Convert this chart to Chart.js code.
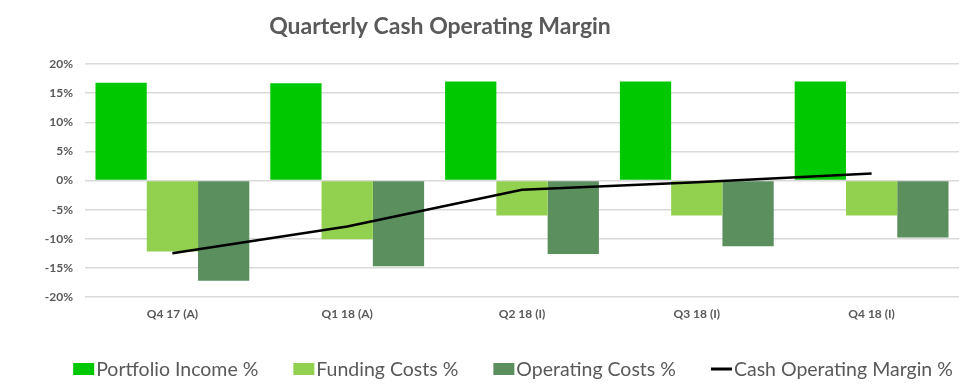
<!DOCTYPE html>
<html>
<head>
<meta charset="utf-8">
<script src="https://cdn.jsdelivr.net/npm/chart.js@4/dist/chart.umd.min.js"></script>
<style>
  html, body { margin: 0; padding: 0; background: #ffffff; }
  #wrap { width: 975px; height: 390px; position: relative; }
</style>
</head>
<body>
<div id="wrap"><canvas id="c" width="975" height="390"></canvas></div>
<script>
const TITLE = 'Quarterly Cash Operating Margin';
const categories = ['Q4 17 (A)', 'Q1 18 (A)', 'Q2 18 (I)', 'Q3 18 (I)', 'Q4 18 (I)'];
const portfolioIncome = [16.8, 16.7, 17.0, 17.0, 17.0];
const fundingCosts = [-12.2, -10.1, -6.0, -6.0, -6.0];
const operatingCosts = [-17.2, -14.7, -12.6, -11.3, -9.8];
const cashOperatingMargin = [-12.5, -7.9, -1.6, -0.3, 1.2];
const seriesNames = ['Portfolio Income %', 'Funding Costs %', 'Operating Costs %', 'Cash Operating Margin %'];
const yTicks = [-20, -15, -10, -5, 0, 5, 10, 15, 20];

const FONT = 'Lato, "Open Sans", sans-serif';
const GREY = '#595959';

const titlePlugin = {
  id: 'titleText',
  afterDraw(chart) {
    const ctx = chart.ctx;
    ctx.save();
    ctx.font = 'bold 23px ' + FONT;
    ctx.fillStyle = GREY;
    ctx.textAlign = 'center';
    ctx.textBaseline = 'middle';
    ctx.fillText(TITLE, 440, 27);
    ctx.restore();
  }
};

// Legend drawn from the chart's own datasets (labels + colours)
const legendPlugin = {
  id: 'customLegend',
  afterDraw(chart) {
    const ctx = chart.ctx;
    const items = chart.data.datasets.map(ds => ({
      text: ds.label, color: ds.type === 'line' ? ds.borderColor : ds.backgroundColor, isLine: ds.type === 'line'
    }));
    const boxW = 21, boxH = 12, gapText = 2, gapItem = 35, cx = 513, cy = 369;
    ctx.save();
    ctx.font = '19.5px ' + FONT;
    const widths = items.map(it => boxW + gapText + ctx.measureText(it.text).width);
    const total = widths.reduce((a, b) => a + b, 0) + gapItem * (items.length - 1);
    let x = cx - total / 2;
    items.forEach((it, i) => {
      if (it.isLine) {
        ctx.strokeStyle = it.color;
        ctx.lineWidth = 3;
        ctx.beginPath();
        ctx.moveTo(x, cy);
        ctx.lineTo(x + boxW, cy);
        ctx.stroke();
      } else {
        ctx.fillStyle = it.color;
        ctx.fillRect(x, cy - boxH / 2, boxW, boxH);
      }
      ctx.fillStyle = GREY;
      ctx.textAlign = 'left';
      ctx.textBaseline = 'middle';
      ctx.fillText(it.text, x + boxW + gapText, cy + 1);
      x += widths[i] + gapItem;
    });
    ctx.restore();
  }
};

new Chart(document.getElementById('c'), {
  type: 'bar',
  data: {
    labels: categories,
    datasets: [
      { label: seriesNames[0], data: portfolioIncome, backgroundColor: '#00C800', order: 1 },
      { label: seriesNames[1], data: fundingCosts, backgroundColor: '#92D050', order: 1 },
      { label: seriesNames[2], data: operatingCosts, backgroundColor: '#5B8F5E', order: 1 },
      { type: 'line', label: seriesNames[3], data: cashOperatingMargin, borderColor: '#000000', backgroundColor: '#000000',
        borderWidth: 2.5, pointRadius: 0, fill: false, tension: 0, order: 0 }
    ]
  },
  options: {
    responsive: false,
    animation: false,
    layout: { padding: { top: 64, left: 0, right: 0, bottom: 57 } },
    datasets: { bar: { categoryPercentage: 0.88, barPercentage: 1.0 } },
    scales: {
      x: {
        offset: true,
        grid: { display: false, drawTicks: false },
        border: { display: false },
        ticks: { color: GREY, font: { family: FONT, size: 12, weight: 'bold' }, padding: 10, maxRotation: 0 },
        afterFit(scale) { scale.height = 36; }
      },
      y: {
        min: -20, max: 20,
        afterBuildTicks(scale) { scale.ticks = yTicks.map(v => ({ value: v })); },
        grid: { color: '#D9D9D9', lineWidth: 1.5, drawTicks: false },
        border: { display: false },
        ticks: { color: GREY, font: { family: FONT, size: 12, weight: 'bold' }, padding: 12, callback: v => v + '%' },
        afterFit(scale) { scale.width = 85; }
      },
      y2: {
        position: 'right',
        grid: { display: false, drawTicks: false },
        border: { display: false },
        ticks: { display: false },
        afterFit(scale) { scale.width = 16; }
      }
    },
    plugins: {
      legend: { display: false },
      tooltip: { enabled: false }
    }
  },
  plugins: [titlePlugin, legendPlugin]
});
</script>
</body>
</html>
